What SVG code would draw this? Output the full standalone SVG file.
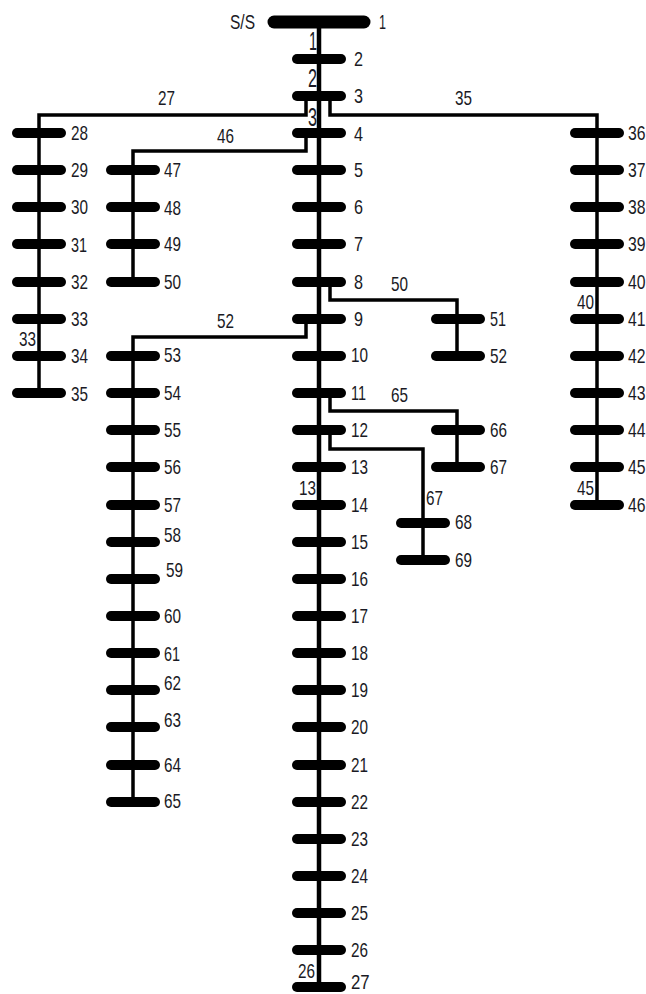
<svg xmlns="http://www.w3.org/2000/svg" width="646" height="994" viewBox="0 0 646 994">
<style>
text{font-family:"Liberation Sans",Arial,sans-serif;font-size:21px;fill:#1a1a24}
.tall{font-size:25px}
.bus{stroke:#000;stroke-width:10;stroke-linecap:round;fill:none}
.big{stroke-width:13}
.c{stroke:#000;fill:none;stroke-width:3.5;stroke-linejoin:miter}
.m{stroke-width:4.5}
</style>
<rect width="646" height="994" fill="#fff"/>
<g id="connectors">
<path class="c m" d="M319 22V987"/>
<path class="c" d="M330 96V115H597V505"/>
<path class="c" d="M306 96V115H39V393"/>
<path class="c" d="M306 133V151H133V282"/>
<path class="c" d="M306 319V337H133V802"/>
<path class="c" d="M330 282V300H457V356"/>
<path class="c" d="M330 393V411H457V467"/>
<path class="c" d="M330 430V449H423V560"/>
</g>
<g id="connector-labels">
<text class="tall" x="309" y="50" textLength="8" lengthAdjust="spacingAndGlyphs">1</text>
<text class="tall" x="308" y="87" textLength="9" lengthAdjust="spacingAndGlyphs">2</text>
<text class="tall" x="308" y="126" textLength="9" lengthAdjust="spacingAndGlyphs">3</text>
<text x="158" y="105" textLength="17" lengthAdjust="spacingAndGlyphs">27</text>
<text x="217" y="143" textLength="17" lengthAdjust="spacingAndGlyphs">46</text>
<text x="455" y="105" textLength="17" lengthAdjust="spacingAndGlyphs">35</text>
<text x="19" y="346" textLength="17" lengthAdjust="spacingAndGlyphs">33</text>
<text x="577" y="309" textLength="17" lengthAdjust="spacingAndGlyphs">40</text>
<text x="577" y="495" textLength="17" lengthAdjust="spacingAndGlyphs">45</text>
<text x="217" y="328" textLength="17" lengthAdjust="spacingAndGlyphs">52</text>
<text x="391" y="291" textLength="17" lengthAdjust="spacingAndGlyphs">50</text>
<text x="391" y="402" textLength="17" lengthAdjust="spacingAndGlyphs">65</text>
<text x="426" y="505" textLength="17" lengthAdjust="spacingAndGlyphs">67</text>
<text x="299" y="495" textLength="17" lengthAdjust="spacingAndGlyphs">13</text>
<text x="298" y="978" textLength="17" lengthAdjust="spacingAndGlyphs">26</text>
</g>
<g id="ss"><text x="230" y="29" textLength="25" lengthAdjust="spacingAndGlyphs">S/S</text></g>
<g id="n1"><path class="bus big" d="M274 22H364"/><text x="379" y="29" textLength="7" lengthAdjust="spacingAndGlyphs">1</text></g>
<g id="n2"><path class="bus" d="M297 59H341"/><text x="354" y="66" textLength="9" lengthAdjust="spacingAndGlyphs">2</text></g>
<g id="n3"><path class="bus" d="M297 96H341"/><text x="354" y="103" textLength="9" lengthAdjust="spacingAndGlyphs">3</text></g>
<g id="n4"><path class="bus" d="M297 133H341"/><text x="354" y="141" textLength="9" lengthAdjust="spacingAndGlyphs">4</text></g>
<g id="n5"><path class="bus" d="M297 170H341"/><text x="354" y="177" textLength="9" lengthAdjust="spacingAndGlyphs">5</text></g>
<g id="n6"><path class="bus" d="M297 207H341"/><text x="354" y="214" textLength="9" lengthAdjust="spacingAndGlyphs">6</text></g>
<g id="n7"><path class="bus" d="M297 244H341"/><text x="354" y="251" textLength="9" lengthAdjust="spacingAndGlyphs">7</text></g>
<g id="n8"><path class="bus" d="M297 282H341"/><text x="354" y="289" textLength="9" lengthAdjust="spacingAndGlyphs">8</text></g>
<g id="n9"><path class="bus" d="M297 319H341"/><text x="354" y="326" textLength="9" lengthAdjust="spacingAndGlyphs">9</text></g>
<g id="n10"><path class="bus" d="M297 356H341"/><text x="351" y="362" textLength="17" lengthAdjust="spacingAndGlyphs">10</text></g>
<g id="n11"><path class="bus" d="M297 393H341"/><text x="351" y="400" textLength="15" lengthAdjust="spacingAndGlyphs">11</text></g>
<g id="n12"><path class="bus" d="M297 430H341"/><text x="351" y="437" textLength="17" lengthAdjust="spacingAndGlyphs">12</text></g>
<g id="n13"><path class="bus" d="M297 467H341"/><text x="351" y="474" textLength="17" lengthAdjust="spacingAndGlyphs">13</text></g>
<g id="n14"><path class="bus" d="M297 505H341"/><text x="351" y="512" textLength="17" lengthAdjust="spacingAndGlyphs">14</text></g>
<g id="n15"><path class="bus" d="M297 542H341"/><text x="351" y="549" textLength="17" lengthAdjust="spacingAndGlyphs">15</text></g>
<g id="n16"><path class="bus" d="M297 579H341"/><text x="351" y="586" textLength="17" lengthAdjust="spacingAndGlyphs">16</text></g>
<g id="n17"><path class="bus" d="M297 616H341"/><text x="351" y="623" textLength="17" lengthAdjust="spacingAndGlyphs">17</text></g>
<g id="n18"><path class="bus" d="M297 653H341"/><text x="351" y="660" textLength="17" lengthAdjust="spacingAndGlyphs">18</text></g>
<g id="n19"><path class="bus" d="M297 690H341"/><text x="351" y="697" textLength="17" lengthAdjust="spacingAndGlyphs">19</text></g>
<g id="n20"><path class="bus" d="M297 727H341"/><text x="351" y="734" textLength="17" lengthAdjust="spacingAndGlyphs">20</text></g>
<g id="n21"><path class="bus" d="M297 765H341"/><text x="351" y="772" textLength="17" lengthAdjust="spacingAndGlyphs">21</text></g>
<g id="n22"><path class="bus" d="M297 802H341"/><text x="351" y="809" textLength="17" lengthAdjust="spacingAndGlyphs">22</text></g>
<g id="n23"><path class="bus" d="M297 839H341"/><text x="351" y="846" textLength="17" lengthAdjust="spacingAndGlyphs">23</text></g>
<g id="n24"><path class="bus" d="M297 876H341"/><text x="351" y="883" textLength="17" lengthAdjust="spacingAndGlyphs">24</text></g>
<g id="n25"><path class="bus" d="M297 913H341"/><text x="351" y="920" textLength="17" lengthAdjust="spacingAndGlyphs">25</text></g>
<g id="n26"><path class="bus" d="M297 950H341"/><text x="351" y="957" textLength="17" lengthAdjust="spacingAndGlyphs">26</text></g>
<g id="n27"><path class="bus" d="M297 987H341"/><text transform="translate(351 989) scale(.8 1)">27</text></g>
<g id="n28"><path class="bus" d="M17 133H61"/><text x="71" y="140" textLength="17" lengthAdjust="spacingAndGlyphs">28</text></g>
<g id="n29"><path class="bus" d="M17 170H61"/><text x="71" y="177" textLength="17" lengthAdjust="spacingAndGlyphs">29</text></g>
<g id="n30"><path class="bus" d="M17 207H61"/><text x="71" y="214" textLength="17" lengthAdjust="spacingAndGlyphs">30</text></g>
<g id="n31"><path class="bus" d="M17 244H61"/><text x="71" y="252" textLength="16" lengthAdjust="spacingAndGlyphs">31</text></g>
<g id="n32"><path class="bus" d="M17 282H61"/><text x="71" y="289" textLength="17" lengthAdjust="spacingAndGlyphs">32</text></g>
<g id="n33"><path class="bus" d="M17 319H61"/><text x="71" y="326" textLength="17" lengthAdjust="spacingAndGlyphs">33</text></g>
<g id="n34"><path class="bus" d="M17 356H61"/><text x="71" y="363" textLength="17" lengthAdjust="spacingAndGlyphs">34</text></g>
<g id="n35"><path class="bus" d="M17 393H61"/><text x="71" y="401" textLength="17" lengthAdjust="spacingAndGlyphs">35</text></g>
<g id="n36"><path class="bus" d="M575 133H619"/><text transform="translate(628 140) scale(.75 1)">36</text></g>
<g id="n37"><path class="bus" d="M575 170H619"/><text transform="translate(628 177) scale(.75 1)">37</text></g>
<g id="n38"><path class="bus" d="M575 207H619"/><text transform="translate(628 214) scale(.75 1)">38</text></g>
<g id="n39"><path class="bus" d="M575 244H619"/><text transform="translate(628 251) scale(.75 1)">39</text></g>
<g id="n40"><path class="bus" d="M575 282H619"/><text transform="translate(628 289) scale(.75 1)">40</text></g>
<g id="n41"><path class="bus" d="M575 319H619"/><text transform="translate(628 326) scale(.75 1)">41</text></g>
<g id="n42"><path class="bus" d="M575 356H619"/><text transform="translate(628 363) scale(.75 1)">42</text></g>
<g id="n43"><path class="bus" d="M575 393H619"/><text transform="translate(628 400) scale(.75 1)">43</text></g>
<g id="n44"><path class="bus" d="M575 430H619"/><text transform="translate(628 437) scale(.75 1)">44</text></g>
<g id="n45"><path class="bus" d="M575 467H619"/><text transform="translate(628 474) scale(.75 1)">45</text></g>
<g id="n46"><path class="bus" d="M575 505H619"/><text transform="translate(628 512) scale(.75 1)">46</text></g>
<g id="n47"><path class="bus" d="M111 170H155"/><text x="164" y="177" textLength="17" lengthAdjust="spacingAndGlyphs">47</text></g>
<g id="n48"><path class="bus" d="M111 207H155"/><text x="164" y="215" textLength="17" lengthAdjust="spacingAndGlyphs">48</text></g>
<g id="n49"><path class="bus" d="M111 244H155"/><text x="164" y="251" textLength="17" lengthAdjust="spacingAndGlyphs">49</text></g>
<g id="n50"><path class="bus" d="M111 282H155"/><text x="164" y="289" textLength="17" lengthAdjust="spacingAndGlyphs">50</text></g>
<g id="n51"><path class="bus" d="M436 319H480"/><text x="490" y="326" textLength="16" lengthAdjust="spacingAndGlyphs">51</text></g>
<g id="n52"><path class="bus" d="M436 356H480"/><text x="490" y="363" textLength="17" lengthAdjust="spacingAndGlyphs">52</text></g>
<g id="n53"><path class="bus" d="M111 356H155"/><text x="164" y="362" textLength="17" lengthAdjust="spacingAndGlyphs">53</text></g>
<g id="n54"><path class="bus" d="M111 393H155"/><text x="164" y="400" textLength="17" lengthAdjust="spacingAndGlyphs">54</text></g>
<g id="n55"><path class="bus" d="M111 430H155"/><text x="164" y="437" textLength="17" lengthAdjust="spacingAndGlyphs">55</text></g>
<g id="n56"><path class="bus" d="M111 467H155"/><text x="164" y="474" textLength="17" lengthAdjust="spacingAndGlyphs">56</text></g>
<g id="n57"><path class="bus" d="M111 505H155"/><text x="164" y="512" textLength="17" lengthAdjust="spacingAndGlyphs">57</text></g>
<g id="n58"><path class="bus" d="M111 542H155"/><text x="164" y="542" textLength="17" lengthAdjust="spacingAndGlyphs">58</text></g>
<g id="n59"><path class="bus" d="M111 579H155"/><text x="166" y="577" textLength="17" lengthAdjust="spacingAndGlyphs">59</text></g>
<g id="n60"><path class="bus" d="M111 616H155"/><text x="164" y="623" textLength="17" lengthAdjust="spacingAndGlyphs">60</text></g>
<g id="n61"><path class="bus" d="M111 653H155"/><text x="164" y="661" textLength="16" lengthAdjust="spacingAndGlyphs">61</text></g>
<g id="n62"><path class="bus" d="M111 690H155"/><text x="164" y="690" textLength="17" lengthAdjust="spacingAndGlyphs">62</text></g>
<g id="n63"><path class="bus" d="M111 727H155"/><text x="164" y="727" textLength="17" lengthAdjust="spacingAndGlyphs">63</text></g>
<g id="n64"><path class="bus" d="M111 765H155"/><text x="164" y="772" textLength="17" lengthAdjust="spacingAndGlyphs">64</text></g>
<g id="n65"><path class="bus" d="M111 802H155"/><text x="164" y="808" textLength="17" lengthAdjust="spacingAndGlyphs">65</text></g>
<g id="n66"><path class="bus" d="M436 430H480"/><text x="490" y="437" textLength="17" lengthAdjust="spacingAndGlyphs">66</text></g>
<g id="n67"><path class="bus" d="M436 467H480"/><text x="490" y="474" textLength="17" lengthAdjust="spacingAndGlyphs">67</text></g>
<g id="n68"><path class="bus" d="M401 523H445"/><text x="455" y="529" textLength="17" lengthAdjust="spacingAndGlyphs">68</text></g>
<g id="n69"><path class="bus" d="M401 560H445"/><text x="455" y="567" textLength="17" lengthAdjust="spacingAndGlyphs">69</text></g>
</svg>
